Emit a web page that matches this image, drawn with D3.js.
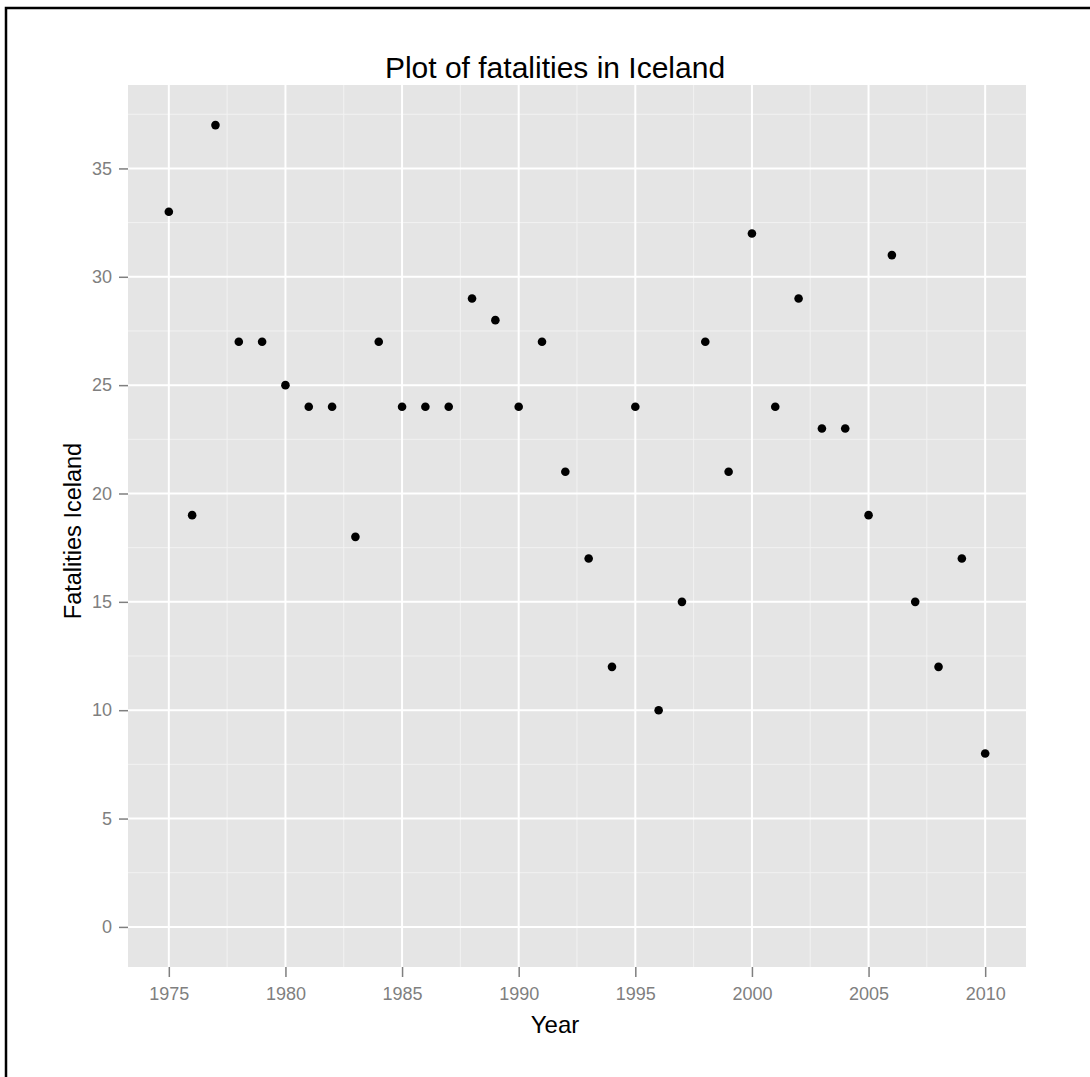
<!DOCTYPE html>
<html>
<head>
<meta charset="utf-8">
<script src="https://cdn.jsdelivr.net/npm/d3@7"></script>
<style>
  html, body { margin: 0; padding: 0; background: #fff; }
  svg { display: block; }
</style>
</head>
<body>
<svg id="chart" width="1090" height="1077"></svg>
<script>
const years = [1975,1976,1977,1978,1979,1980,1981,1982,1983,1984,1985,1986,1987,1988,1989,1990,1991,1992,1993,1994,1995,1996,1997,1998,1999,2000,2001,2002,2003,2004,2005,2006,2007,2008,2009,2010];
const fatalities = [33,19,37,27,27,25,24,24,18,27,24,24,24,29,28,24,27,21,17,12,24,10,15,27,21,32,24,29,23,23,19,31,15,12,17,8];
const xTicks = [1975,1980,1985,1990,1995,2000,2005,2010];
const yTicks = [0,5,10,15,20,25,30,35];
const titleText = "Plot of fatalities in Iceland";
const xTitle = "Year";
const yTitle = "Fatalities Iceland";

const svg = d3.select("#chart");
const W = 1090, H = 1077;
const FONT = "'Liberation Sans', Arial, sans-serif";

// frame
svg.append("rect").attr("x", 6).attr("y", 8).attr("width", W + 10).attr("height", H + 10)
  .attr("fill", "none").attr("stroke", "#000").attr("stroke-width", 2.5);

const panel = {left: 128, right: 1026, top: 85, bottom: 967};

// expanded domains (ggplot style 5%)
const xMin = d3.min(years), xMax = d3.max(years);
const xPad = (xMax - xMin) * 0.05;
const yMin = 0, yMax = d3.max(fatalities);
const yPad = (yMax - yMin) * 0.05;

const x = d3.scaleLinear().domain([xMin - xPad, xMax + xPad]).range([panel.left, panel.right]);
const y = d3.scaleLinear().domain([yMin - yPad, yMax + yPad]).range([panel.bottom, panel.top]);

svg.append("rect").attr("x", panel.left).attr("y", panel.top)
  .attr("width", panel.right - panel.left).attr("height", panel.bottom - panel.top)
  .attr("fill", "#e5e5e5");

// minor grid
const xMinor = xTicks.slice(0, -1).map(d => d + 2.5)
  .concat([xTicks[0] - 2.5, xTicks[xTicks.length-1] + 2.5])
  .filter(d => d >= x.domain()[0] && d <= x.domain()[1]);
const yMinor = yTicks.slice(0, -1).map(d => d + 2.5)
  .concat([yTicks[yTicks.length-1] + 2.5])
  .filter(d => d >= y.domain()[0] && d <= y.domain()[1]);

const g = svg.append("g");
g.selectAll(".xminor").data(xMinor).join("line")
  .attr("x1", d => x(d)).attr("x2", d => x(d)).attr("y1", panel.top).attr("y2", panel.bottom)
  .attr("stroke", "#f2f2f2").attr("stroke-width", 1);
g.selectAll(".yminor").data(yMinor).join("line")
  .attr("y1", d => y(d)).attr("y2", d => y(d)).attr("x1", panel.left).attr("x2", panel.right)
  .attr("stroke", "#f2f2f2").attr("stroke-width", 1);
g.selectAll(".xmajor").data(xTicks).join("line")
  .attr("x1", d => x(d)).attr("x2", d => x(d)).attr("y1", panel.top).attr("y2", panel.bottom)
  .attr("stroke", "#fff").attr("stroke-width", 2);
g.selectAll(".ymajor").data(yTicks).join("line")
  .attr("y1", d => y(d)).attr("y2", d => y(d)).attr("x1", panel.left).attr("x2", panel.right)
  .attr("stroke", "#fff").attr("stroke-width", 2);

// axes
const xAxis = d3.axisBottom(x).tickValues(xTicks).tickFormat(d3.format("d")).tickSize(10).tickPadding(10);
const yAxis = d3.axisLeft(y).tickValues(yTicks).tickSize(9).tickPadding(7);

const gx = svg.append("g").attr("transform", `translate(0,${panel.bottom})`).call(xAxis);
const gy = svg.append("g").attr("transform", `translate(${panel.left},0)`).call(yAxis);
[gx, gy].forEach(a => {
  a.select(".domain").remove();
  a.selectAll(".tick line").attr("stroke", "#7f7f7f").attr("stroke-width", 1.5);
  a.selectAll(".tick text").attr("fill", "#7f7f7f")
    .style("font-family", FONT).style("font-size", "18px");
});

// points
svg.append("g").selectAll("circle").data(years.map((d, i) => [d, fatalities[i]])).join("circle")
  .attr("cx", d => x(d[0])).attr("cy", d => y(d[1])).attr("r", 4.3).attr("fill", "#000");

// titles
svg.append("text").attr("x", 555).attr("y", 78).attr("text-anchor", "middle")
  .style("font-family", FONT).style("font-size", "30px")
  .attr("fill", "#000").text(titleText);
svg.append("text").attr("x", 555).attr("y", 1033).attr("text-anchor", "middle")
  .style("font-family", FONT).style("font-size", "24px")
  .attr("fill", "#000").text(xTitle);
svg.append("text").attr("transform", "translate(81,531) rotate(-90)").attr("text-anchor", "middle")
  .style("font-family", FONT).style("font-size", "23.5px")
  .attr("fill", "#000").text(yTitle);
</script>
</body>
</html>
